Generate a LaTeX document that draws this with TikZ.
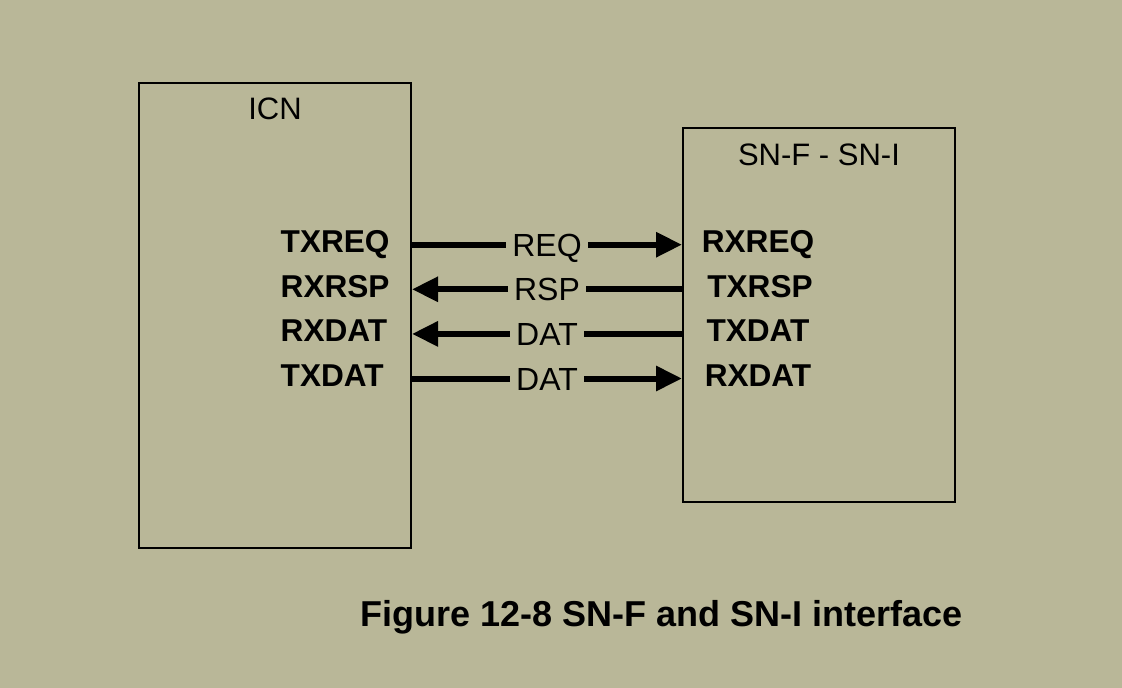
\documentclass[tikz,border=0pt]{standalone}
\usepackage{fontspec}
\setmainfont{Liberation Sans}
\usepackage{tikz}
\usetikzlibrary{arrows.meta,positioning,calc}
\definecolor{snbg}{RGB}{185,183,152}
\definecolor{snedge}{RGB}{0,0,0}
\tikzset{
  blk/.style={
    draw=snedge, line width=2pt, minimum width=272pt, inner sep=0pt
  },
  blktitle/.style={
    font=\fontsize{31}{36}\selectfont, inner sep=0pt,
    text height=22pt, text depth=0pt
  },
  % centre sits a little under the caps, on the signal line
  port/.style={
    font=\fontsize{31.6}{36}\selectfont\bfseries, inner sep=0pt,
    text height=19pt, text depth=3pt
  },
  sig/.style={draw=snedge, line width=6pt},
  sigarr/.style={sig, -{Triangle[length=26pt,width=24pt]}},
  sigrev/.style={sig, {Triangle[length=26pt,width=24pt]}-},
  siglbl/.style={
    fill=snbg, font=\fontsize{32}{36}\selectfont,
    inner xsep=6.5pt, inner ysep=2pt, text height=23pt, text depth=0pt
  },
  capt/.style={font=\fontsize{36}{40}\selectfont\bfseries, inner sep=0pt}
}
\begin{document}
\begin{tikzpicture}[x=1pt, y=-1pt, node distance=22.2pt]
  \fill[snbg] (0,0) rectangle (1122,688);
  \useasboundingbox (0,0) rectangle (1122,688);

  \node[blk, minimum height=465pt] (icn) at (275,315.5) {};
  \node[blk, minimum height=374pt] (sn) at (819,315) {};
  \node[blktitle] (icnt) at (275,108) {ICN};
  \node[blktitle] (snt) at (819,154) {SN-F - SN-I};

  \node[port, anchor=west] (txreq) at (280.5,244.7) {TXREQ};
  \node[port, below=of txreq.south west, anchor=north west] (rxrsp) {RXRSP};
  \node[port, below=of rxrsp.south west, anchor=north west] (rxdat) {RXDAT};
  \node[port, below=of rxdat.south west, anchor=north west] (txdat) {TXDAT};

  \node[port] (rxreq) at ($(sn.west |- txreq)+(76,0)$) {RXREQ};
  \node[port] (txrsp) at ($(sn.west |- rxrsp)+(78,0)$) {TXRSP};
  \node[port] (sntxdat) at ($(sn.west |- rxdat)+(76,0)$) {TXDAT};
  \node[port] (snrxdat) at ($(sn.west |- txdat)+(76,0)$) {RXDAT};

  \draw[sigarr] (icn.east |- txreq) -- node[siglbl] (lreq) {REQ} (sn.west |- rxreq);
  \draw[sigrev] (icn.east |- rxrsp) -- node[siglbl] (lrsp) {RSP} (sn.west |- txrsp);
  \draw[sigrev] (icn.east |- rxdat) -- node[siglbl] (ldat) {DAT} (sn.west |- sntxdat);
  \draw[sigarr] (icn.east |- txdat) -- node[siglbl] (ldat2) {DAT} (sn.west |- snrxdat);

  \node[capt, anchor=base west] (cap) at (360.5,626) {Figure 12-8 SN-F and SN-I interface};
\end{tikzpicture}
\end{document}
